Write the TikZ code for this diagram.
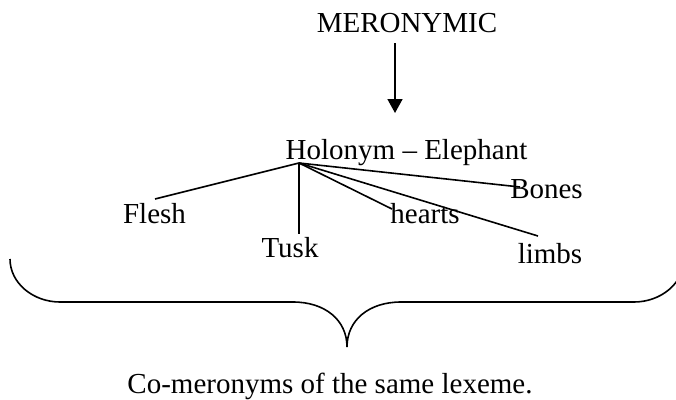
\documentclass[tikz,border=0pt]{standalone}
\usepackage{fontspec}
\setmainfont{Liberation Serif}
\usetikzlibrary{arrows.meta}
\begin{document}
\begin{tikzpicture}[x=1pt,y=-1pt,
  lbl/.style={anchor=base,inner sep=0pt,font=\fontsize{29}{34}\selectfont},
  link/.style={line width=1.6pt},
  brace/.style={line width=1.6pt}]
\useasboundingbox (0,0) rectangle (676,399);
% texts
\node[lbl] (mero) at (407,32) {MERONYMIC};
\node[lbl] (holo) at (406.5,159) {Holonym -- Elephant};
\node[lbl] (flesh) at (154.5,223) {Flesh};
\node[lbl] (tusk) at (290,257) {Tusk};
\node[lbl] (hearts) at (425,223) {hearts};
\node[lbl] (limbs) at (550,263) {limbs};
\node[lbl] (bones) at (546.5,198) {Bones};
\node[lbl] (cap) at (330,393) {Co-meronyms of the same lexeme.};
% connector points
\coordinate (arrS) at (395,43);
\coordinate (arrE) at (395,113);
\coordinate (hub) at (299,163);
\coordinate (eFlesh) at (155,199);
\coordinate (eTusk) at (299,234);
\coordinate (eHearts) at (392,209);
\coordinate (eLimbs) at (538,236);
\coordinate (eBones) at (520,187);
% arrow
\draw[link,-{Triangle[length=14pt,width=15pt]}] (arrS) -- (arrE);
% fan
\draw[link] (hub) -- (eFlesh);
\draw[link] (hub) -- (eTusk);
\draw[link] (hub) -- (eHearts);
\draw[link] (hub) -- (eLimbs);
\draw[link] (hub) -- (eBones);
% brace
\coordinate (bL) at (10,259);
\coordinate (bTip) at (347,347);
\coordinate (bR) at (684,259);
\draw[brace] (bL) .. controls (10,283) and (33,302) .. (60,302)
  -- (293,302) .. controls (325,302) and (347,320) .. (bTip)
  .. controls (347,320) and (369,302) .. (401,302)
  -- (634,302) .. controls (661,302) and (684,283) .. (bR);
\end{tikzpicture}
\end{document}
